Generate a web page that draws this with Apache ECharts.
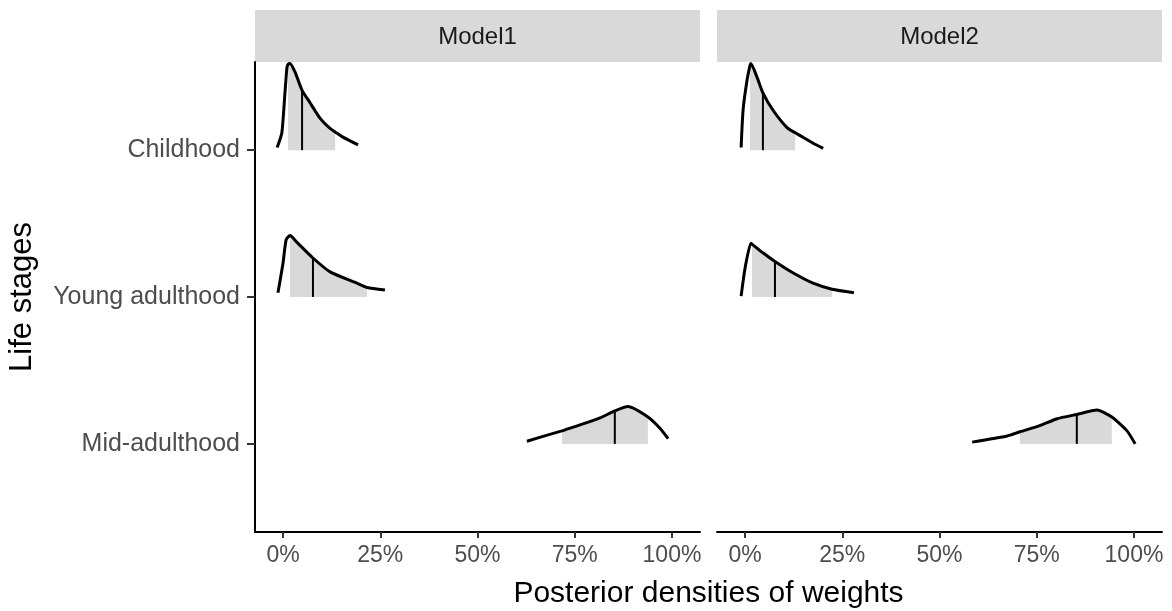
<!DOCTYPE html>
<html lang="en">
<head>
    <meta charset="UTF-8">
    <title>Posterior densities of weights</title>
    <script src="https://cdn.jsdelivr.net/npm/echarts@6/dist/echarts.min.js"></script>
</head>
<body style="margin: 0; background: #fff">
<div id="chart" style="width: 1172px; height: 611px"></div>

<script>
    // categories, bottom to top (y = 1, 2, 3)
    let stages = ['Mid-adulthood', 'Young adulthood', 'Childhood'];
    let models = ['Model1', 'Model2'];
    let xTicks = [0, 25, 50, 75, 100];

    // density curves: [weight %, relative density]
    let m1Childhood = [[-1.5, 0.03], [-0.3, 0.2], [0.5, 0.66], [1.0, 0.95], [1.3, 0.99], [1.8, 1.0], [3.1, 0.9],
        [4.9, 0.69], [6.9, 0.55], [9.5, 0.37], [12.1, 0.25], [13.4, 0.21], [15.4, 0.15], [19.3, 0.06]];
    let m1Young = [[-1.3, 0.05], [0, 0.39], [0.8, 0.66], [1.8, 0.71], [3.6, 0.63], [7.7, 0.45], [12.1, 0.29],
        [19.0, 0.16], [21.6, 0.11], [26.2, 0.08]];
    let m1Mid = [[62.7, 0.03], [68.6, 0.11], [71.7, 0.15], [73.0, 0.17], [77.1, 0.23], [81.5, 0.3], [85.3, 0.38],
        [88.7, 0.43], [93.8, 0.31], [96.9, 0.18], [99.0, 0.06]];

    let m2Childhood = [[-1.0, 0.03], [-0.5, 0.46], [0.5, 0.8], [1.3, 0.98], [1.5, 1.0], [3.1, 0.84], [4.6, 0.66],
        [7.2, 0.46], [10.8, 0.26], [12.9, 0.2], [14.1, 0.17], [17.5, 0.08], [20.1, 0.02]];
    let m2Young = [[-1.0, 0.01], [0, 0.33], [1.5, 0.62], [1.8, 0.61], [4.6, 0.51], [7.7, 0.41], [12.3, 0.28],
        [17.5, 0.16], [22.4, 0.09], [28.0, 0.05]];
    let m2Mid = [[58.4, 0.02], [67.4, 0.09], [70.7, 0.14], [75.8, 0.21], [80.2, 0.29], [85.3, 0.34], [90.5, 0.39],
        [94.3, 0.31], [98.2, 0.15], [100.3, 0.0]];

    // shaded interval and median: [low, median, high], same order as stages
    let m1Quantiles = [[71.7, 85.3, 93.8], [1.8, 7.7, 21.6], [1.3, 4.9, 13.4]];
    let m2Quantiles = [[70.7, 85.3, 94.3], [1.8, 7.7, 22.4], [1.3, 4.6, 12.9]];

    let curves = [[m1Mid, m1Young, m1Childhood], [m2Mid, m2Young, m2Childhood]];
    let quantiles = [m1Quantiles, m2Quantiles];

    let ridgeScale = 0.59;
    let panelTop = 62, panelHeight = 470, panelWidth = 445;
    let panelLeft = [255, 717];
    let axisFont = 'Liberation Sans, Arial, sans-serif';

    let chart = echarts.init(document.getElementById('chart'));

    let grids = [], xAxes = [], yAxes = [], series = [], graphics = [];

    models.forEach(function (model, m) {
        grids.push({left: panelLeft[m], top: panelTop, width: panelWidth, height: panelHeight});
        xAxes.push({
            type: 'value', gridIndex: m, min: -7.2, max: 107.2,
            axisLine: {onZero: false, lineStyle: {color: '#000', width: 2}},
            axisTick: {customValues: xTicks, length: 6, lineStyle: {color: '#333', width: 2}},
            axisLabel: {
                customValues: xTicks, formatter: '{value}%', color: '#4d4d4d',
                fontSize: 23, fontFamily: axisFont, margin: 12
            },
            splitLine: {show: false}
        });
        yAxes.push({
            type: 'value', gridIndex: m, min: 0.4, max: 3.6,
            show: m === 0,
            axisLine: {show: true, onZero: false, lineStyle: {color: '#000', width: 2}},
            axisTick: {customValues: [1, 2, 3], length: 8, lineStyle: {color: '#333', width: 2}},
            axisLabel: {
                customValues: [1, 2, 3], color: '#4d4d4d', fontSize: 25, fontFamily: axisFont, margin: 15,
                formatter: function (v) { return stages[Math.round(v) - 1]; }
            },
            splitLine: {show: false}
        });

        // strip on top of each panel
        graphics.push({
            type: 'rect', left: panelLeft[m], top: 10,
            shape: {width: panelWidth, height: panelTop - 10},
            style: {fill: '#d9d9d9'}
        });
        graphics.push({
            type: 'text', x: panelLeft[m] + panelWidth / 2, y: 37,
            style: {text: model, font: '24px ' + axisFont, fill: '#1a1a1a', align: 'center', verticalAlign: 'middle'}
        });

        stages.forEach(function (stage, s) {
            let base = s + 1;
            let curve = curves[m][s];
            let q = quantiles[m][s];

            series.push({
                type: 'custom', name: stage, xAxisIndex: m, yAxisIndex: m, silent: true, z: 1,
                data: [[q[1], base]],
                renderItem: function (params, api) {
                    let inside = curve.filter(function (p) { return p[0] >= q[0] && p[0] <= q[2]; });
                    let pts = [api.coord([q[0], base])];
                    inside.forEach(function (p) { pts.push(api.coord([p[0], base + p[1] * ridgeScale])); });
                    pts.push(api.coord([q[2], base]));
                    let med = curve.find(function (p) { return p[0] === q[1]; });
                    let top = api.coord([q[1], base + med[1] * ridgeScale]);
                    let bottom = api.coord([q[1], base]);
                    return {
                        type: 'group',
                        children: [
                            {type: 'polygon', shape: {points: pts}, style: {fill: '#d9d9d9'}},
                            {
                                type: 'line', shape: {x1: top[0], y1: top[1], x2: bottom[0], y2: bottom[1]},
                                style: {stroke: '#000', lineWidth: 2}
                            }
                        ]
                    };
                }
            });

            series.push({
                type: 'line', name: stage, xAxisIndex: m, yAxisIndex: m, silent: true, z: 3,
                data: curve.map(function (p) { return [p[0], base + p[1] * ridgeScale]; }),
                showSymbol: false, smooth: 0.2,
                lineStyle: {color: '#000', width: 3}
            });
        });
    });

    // axis titles
    graphics.push({
        type: 'text', x: panelLeft[0] + (panelLeft[1] + panelWidth - panelLeft[0]) / 2, y: 594,
        style: {text: 'Posterior densities of weights', font: '30px ' + axisFont, fill: '#000',
            align: 'center', verticalAlign: 'middle'}
    });
    graphics.push({
        type: 'text', x: 22, y: panelTop + panelHeight / 2, rotation: Math.PI / 2,
        style: {text: 'Life stages', font: '31px ' + axisFont, fill: '#000',
            align: 'center', verticalAlign: 'middle'}
    });

    chart.setOption({
        animation: false,
        grid: grids,
        xAxis: xAxes,
        yAxis: yAxes,
        graphic: graphics,
        series: series
    });
</script>
</body>
</html>
